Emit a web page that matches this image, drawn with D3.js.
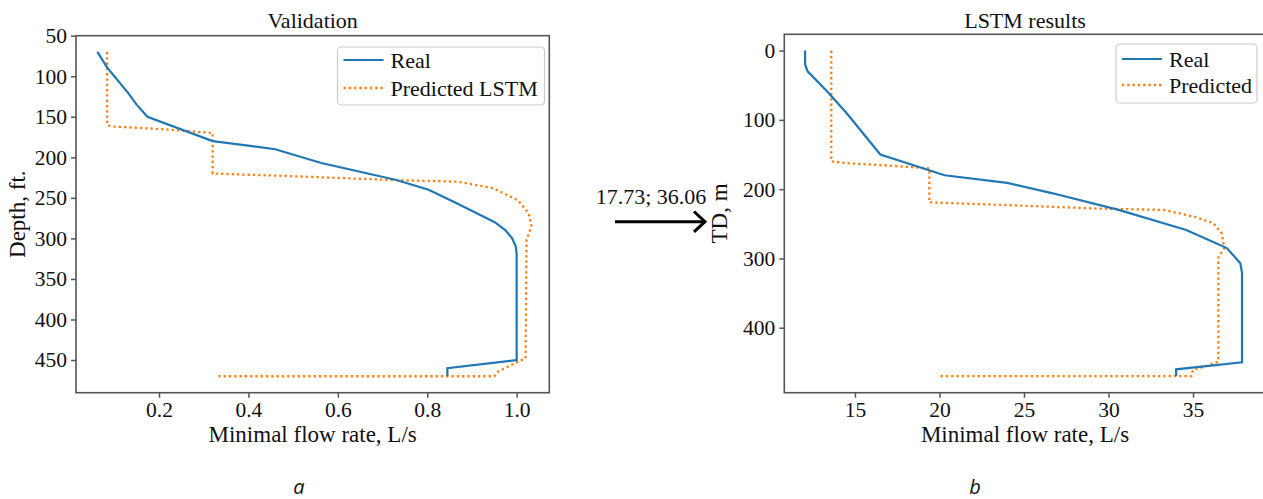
<!DOCTYPE html>
<html>
<head>
<meta charset="utf-8">
<script src="https://cdn.jsdelivr.net/npm/d3@7"></script>
<style>
  body { margin: 0; background: #fff; }
  svg { display: block; }
</style>
</head>
<body>
<div id="chart"></div>
<script>
// ---- data: panel a (Validation) ----
const valRealDepth = [70, 90, 100, 110, 120, 135, 150, 180, 190, 207, 228, 240, 257, 280, 290, 300, 310, 320, 450, 460, 470];
const valRealFlow  = [0.062, 0.085, 0.10, 0.115, 0.13, 0.15, 0.174, 0.32, 0.46, 0.563, 0.731, 0.803, 0.867, 0.951, 0.975, 0.99, 0.998, 1.0, 1.0, 0.845, 0.845];
const valPredDepth = [70, 160, 162, 165, 170, 220, 223, 228, 230, 238, 253, 269, 285, 302, 448, 452, 464, 470, 470];
const valPredFlow  = [0.084, 0.084, 0.095, 0.20, 0.32, 0.32, 0.484, 0.723, 0.867, 0.947, 1.003, 1.027, 1.033, 1.022, 1.02, 1.003, 0.959, 0.95, 0.333];
const valXTicks = [0.2, 0.4, 0.6, 0.8, 1.0];
const valYTicks = [50, 100, 150, 200, 250, 300, 350, 400, 450];

// ---- data: panel b (LSTM results) ----
const lstmRealDepth = [0, 20, 30, 60, 90, 120, 150, 180, 191, 206, 230, 259, 285, 307, 321, 450, 460, 470];
const lstmRealFlow  = [12.05, 12.05, 12.2, 13.4, 14.5, 15.5, 16.5, 20.3, 24.0, 26.7, 30.6, 34.6, 37.0, 37.8, 37.9, 37.9, 34.0, 34.0];
const lstmPredDepth = [0, 160, 163, 166, 170, 219, 223, 228, 230, 240, 249, 264, 285, 299, 449, 456, 461, 470, 470];
const lstmPredFlow  = [13.6, 13.6, 14.8, 17.0, 19.4, 19.4, 24.0, 29.3, 33.3, 35.1, 36.2, 36.7, 36.85, 36.5, 36.5, 35.7, 35.0, 34.9, 20.0];
const lstmXTicks = [15, 20, 25, 30, 35];
const lstmYTicks = [0, 100, 200, 300, 400];

const blue = "#1f77b4", orange = "#ff7f0e";
const serif = '"Liberation Serif", "Times New Roman", serif';

const svg = d3.select("#chart").append("svg")
    .attr("width", 1263)
    .attr("height", 499);

// small helper so every label gets the same font handling
function label(sel, size) {
    return sel.style("font-family", serif).style("font-size", size + "px").style("fill", "#111");
}

function drawPanel(p) {
    let x = d3.scaleLinear().domain(p.xDomain).range([p.left, p.right]);
    let y = d3.scaleLinear().domain(p.yDomain).range([p.top, p.bottom]);

    let g = svg.append("g");
    let line = d3.line().x(d => x(d[0])).y(d => y(d[1]));

    g.append("path")
        .datum(d3.zip(p.predFlow, p.predDepth))
        .attr("d", line)
        .attr("fill", "none")
        .attr("stroke", orange)
        .attr("stroke-width", 2.3)
        .attr("stroke-dasharray", "2.3,3");

    g.append("path")
        .datum(d3.zip(p.realFlow, p.realDepth))
        .attr("d", line)
        .attr("fill", "none")
        .attr("stroke", blue)
        .attr("stroke-width", 2.2);

    // axes
    let xAxis = d3.axisBottom(x).tickValues(p.xTicks).tickSize(5).tickPadding(4)
        .tickFormat(p.xFormat);
    let yAxis = d3.axisLeft(y).tickValues(p.yTicks).tickSize(5).tickPadding(4);

    let gx = g.append("g").attr("transform", `translate(0,${p.bottom})`).call(xAxis);
    let gy = g.append("g").attr("transform", `translate(${p.left},0)`).call(yAxis);
    [gx, gy].forEach(a => {
        a.select(".domain").remove();
        a.selectAll(".tick line").attr("stroke", "#555").attr("stroke-width", 1.5);
        label(a.selectAll(".tick text"), 21.5);
    });

    // frame
    g.append("rect")
        .attr("x", p.left).attr("y", p.top)
        .attr("width", p.right - p.left).attr("height", p.bottom - p.top)
        .attr("fill", "none").attr("stroke", "#555").attr("stroke-width", 1.6);

    // title & labels
    label(g.append("text"), 22)
        .attr("x", (p.left + p.right) / 2).attr("y", 28)
        .attr("text-anchor", "middle")
        .text(p.title);

    label(g.append("text"), 23)
        .attr("x", (p.left + p.right) / 2).attr("y", 442)
        .attr("text-anchor", "middle")
        .text("Minimal flow rate, L/s");

    label(g.append("text"), 23)
        .attr("transform", `translate(${p.yLabelX},${(p.top + p.bottom) / 2}) rotate(-90)`)
        .attr("text-anchor", "middle")
        .text(p.yLabel);

    // legend
    let lg = g.append("g");
    lg.append("rect")
        .attr("x", p.legend.x).attr("y", p.legend.y)
        .attr("width", p.legend.w).attr("height", p.legend.h)
        .attr("rx", 4)
        .attr("fill", "#fff").attr("fill-opacity", 0.85)
        .attr("stroke", "#ccc").attr("stroke-width", 1.2);
    let items = [
        {name: "Real", color: blue, dash: null},
        {name: p.predName, color: orange, dash: "2.3,3"}
    ];
    items.forEach((it, i) => {
        let yy = p.legend.rows[i];
        lg.append("line")
            .attr("x1", p.legend.x + 6).attr("x2", p.legend.x + 46)
            .attr("y1", yy).attr("y2", yy)
            .attr("stroke", it.color)
            .attr("stroke-width", it.dash ? 2.3 : 2.2)
            .attr("stroke-dasharray", it.dash);
        label(lg.append("text"), 22)
            .attr("x", p.legend.x + 53).attr("y", yy + 7.5)
            .text(it.name);
    });

    svg.append("text")
        .style("font-family", '"Open Sans", "Liberation Sans", sans-serif')
        .style("font-style", "italic").style("font-size", "20px").style("fill", "#111")
        .attr("x", p.subX).attr("y", 494)
        .attr("text-anchor", "middle")
        .text(p.sub);
}

drawPanel({
    left: 76, right: 549.3, top: 35.7, bottom: 392.7,
    xDomain: [0.0143, 1.073], yDomain: [50, 490.3],
    xTicks: valXTicks, yTicks: valYTicks, xFormat: d3.format(".1f"),
    realFlow: valRealFlow, realDepth: valRealDepth,
    predFlow: valPredFlow, predDepth: valPredDepth,
    title: "Validation", yLabel: "Depth, ft.", yLabelX: 25,
    predName: "Predicted LSTM",
    legend: {x: 337.5, y: 47, w: 207, h: 58, rows: [60, 88]},
    sub: "a", subX: 299
});

drawPanel({
    left: 784.3, right: 1265.7, top: 34.3, bottom: 392.7,
    xDomain: [10.82, 39.3], yDomain: [-23.5, 493.8],
    xTicks: lstmXTicks, yTicks: lstmYTicks, xFormat: d3.format("d"),
    realFlow: lstmRealFlow, realDepth: lstmRealDepth,
    predFlow: lstmPredFlow, predDepth: lstmPredDepth,
    title: "LSTM results", yLabel: "TD, m", yLabelX: 727,
    predName: "Predicted",
    legend: {x: 1116, y: 44, w: 141, h: 59, rows: [59, 85]},
    sub: "b", subX: 975
});

// arrow with the annotation between the panels
label(svg.append("text"), 22)
    .attr("x", 651).attr("y", 203.5)
    .attr("text-anchor", "middle")
    .text("17.73; 36.06");

svg.append("path")
    .attr("d", d3.line()([[615, 221.7], [705, 221.7]]))
    .attr("stroke", "#000").attr("stroke-width", 3).attr("fill", "none");
svg.append("path")
    .attr("d", d3.line()([[694, 211.5], [705, 221.7], [694, 231.9]]))
    .attr("stroke", "#000").attr("stroke-width", 3).attr("fill", "none");
</script>
</body>
</html>
